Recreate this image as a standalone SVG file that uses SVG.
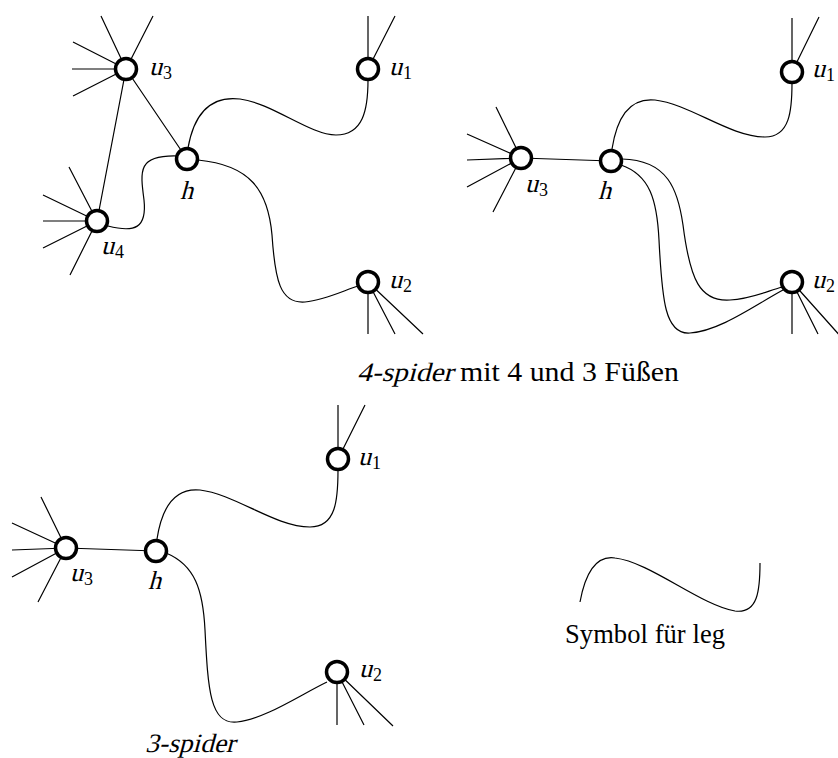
<svg xmlns="http://www.w3.org/2000/svg" width="838" height="758" viewBox="0 0 838 758">
<style>
.e{fill:none;stroke:#000;stroke-width:1.2}
.n{fill:#fff;stroke:#000;stroke-width:3.5}
.m{font-family:"Liberation Serif",serif;font-style:normal;font-size:26px;fill:#000}
.s{font-family:"Liberation Serif",serif;font-style:normal;font-size:18px;fill:#000}
.t{font-family:"Liberation Serif",serif;font-style:normal;font-size:26.5px;fill:#000}
</style>
<rect width="838" height="758" fill="#fff"/>
<g id="connectors">
  <path class="e" d="M126,69L101,16M126,69L153,16M126,69L73,42M126,69L72,69M126,69L73,96"/>
  <path class="e" d="M97,221L69,167M97,221L43,195M97,221L43,221M97,221L43,248M97,221L70,275"/>
  <path class="e" d="M368,69L368,16M368,69L395,16"/>
  <path class="e" d="M368,282L368,334M368,282L395,334M368,282L423,334"/>
  <path class="e" d="M126,69L97,221M126,69L187,159"/>
  <path class="e" d="M108,226C135,233 147,228 144,200C140,170 138,155 177,156"/>
  <path class="e" d="M188,148C195,108 215,96 240,99C272,103 310,135 336,135C363,135 368,110 368,80"/>
  <path class="e" d="M198,160C250,165 268,190 272,235C275,280 280,304 305,302C325,300 345,290 358,286"/>
  <path class="e" d="M521,158L496,107M521,158L467,134M521,158L467,160M521,158L467,187M521,158L493,212"/>
  <path class="e" d="M792,72L792,18M792,72L819,17"/>
  <path class="e" d="M792,282L792,334M792,282L818,334M792,282L842,338"/>
  <path class="e" d="M521,158L611,161"/>
  <path class="e" d="M612,149C618,110 635,98 655,100C690,104 730,137 765,137C790,137 792,110 792,83"/>
  <path class="e" d="M622,159C668,160 678,190 683,225C690,280 700,302 730,300C750,299 765,292 782,287"/>
  <path class="e" d="M621,165C650,175 657,200 659,240C662,300 665,335 690,333C720,331 755,305 783,290"/>
  <path class="e" d="M66,548L41,497M66,548L12,523M66,548L12,550M66,548L12,577M66,548L38,602"/>
  <path class="e" d="M338,459L338,405M338,459L365,405"/>
  <path class="e" d="M337,672L337,725M337,672L364,725M337,672L393,726"/>
  <path class="e" d="M66,548L156,551"/>
  <path class="e" d="M157,539C163,500 180,488 200,490C235,494 275,527 310,527C336,527 338,500 338,470"/>
  <path class="e" d="M166,553C195,565 203,590 205,630C208,690 210,725 237,722C265,719 300,695 327,682"/>
  <path class="e" d="M580,602C585,575 595,555 615,558C650,562 700,605 735,611C758,614 760,590 760,563"/>
</g>
<g id="tl-u3"><circle class="n" cx="126" cy="69" r="10.5"/><text class="m" transform="translate(149 75) skewX(-15)">u</text><text class="s" x="163" y="79">3</text></g>
<g id="tl-u4"><circle class="n" cx="97" cy="221" r="10.5"/><text class="m" transform="translate(101 254) skewX(-15)">u</text><text class="s" x="115" y="258">4</text></g>
<g id="tl-h"><circle class="n" cx="187" cy="159" r="10.5"/><text class="m" transform="translate(180 199) skewX(-15)">h</text></g>
<g id="tl-u1"><circle class="n" cx="368" cy="69" r="10.5"/><text class="m" transform="translate(389 75) skewX(-15)">u</text><text class="s" x="403" y="79">1</text></g>
<g id="tl-u2"><circle class="n" cx="368" cy="282" r="10.5"/><text class="m" transform="translate(389 288) skewX(-15)">u</text><text class="s" x="403" y="292">2</text></g>

<g id="tr-u3"><circle class="n" cx="521" cy="158" r="10.5"/><text class="m" transform="translate(525 192) skewX(-15)">u</text><text class="s" x="539" y="196">3</text></g>
<g id="tr-h"><circle class="n" cx="611" cy="161" r="10.5"/><text class="m" transform="translate(598 199) skewX(-15)">h</text></g>
<g id="tr-u1"><circle class="n" cx="792" cy="72" r="10.5"/><text class="m" transform="translate(812 77) skewX(-15)">u</text><text class="s" x="826" y="81">1</text></g>
<g id="tr-u2"><circle class="n" cx="792" cy="282" r="10.5"/><text class="m" transform="translate(812 288) skewX(-15)">u</text><text class="s" x="826" y="292">2</text></g>

<g id="caption-top"><text class="t" transform="translate(357 381) skewX(-15)" textLength="96" lengthAdjust="spacingAndGlyphs">4-spider</text><text class="t" x="460" y="381" style="font-size:28px" textLength="219" lengthAdjust="spacingAndGlyphs">mit 4 und 3 Füßen</text></g>

<g id="b-u3"><circle class="n" cx="66" cy="548" r="10.5"/><text class="m" transform="translate(70 581) skewX(-15)">u</text><text class="s" x="84" y="585">3</text></g>
<g id="b-h"><circle class="n" cx="156" cy="551" r="10.5"/><text class="m" transform="translate(148 589) skewX(-15)">h</text></g>
<g id="b-u1"><circle class="n" cx="338" cy="459" r="10.5"/><text class="m" transform="translate(358 465) skewX(-15)">u</text><text class="s" x="372" y="469">1</text></g>
<g id="b-u2"><circle class="n" cx="337" cy="672" r="10.5"/><text class="m" transform="translate(359 677) skewX(-15)">u</text><text class="s" x="373" y="681">2</text></g>

<g id="caption-bottom"><text class="t" transform="translate(145 752) skewX(-15)" textLength="90" lengthAdjust="spacingAndGlyphs">3-spider</text></g>
<g id="legend"><text class="t" x="565" y="643" textLength="160" lengthAdjust="spacing">Symbol für leg</text></g>
</svg>
